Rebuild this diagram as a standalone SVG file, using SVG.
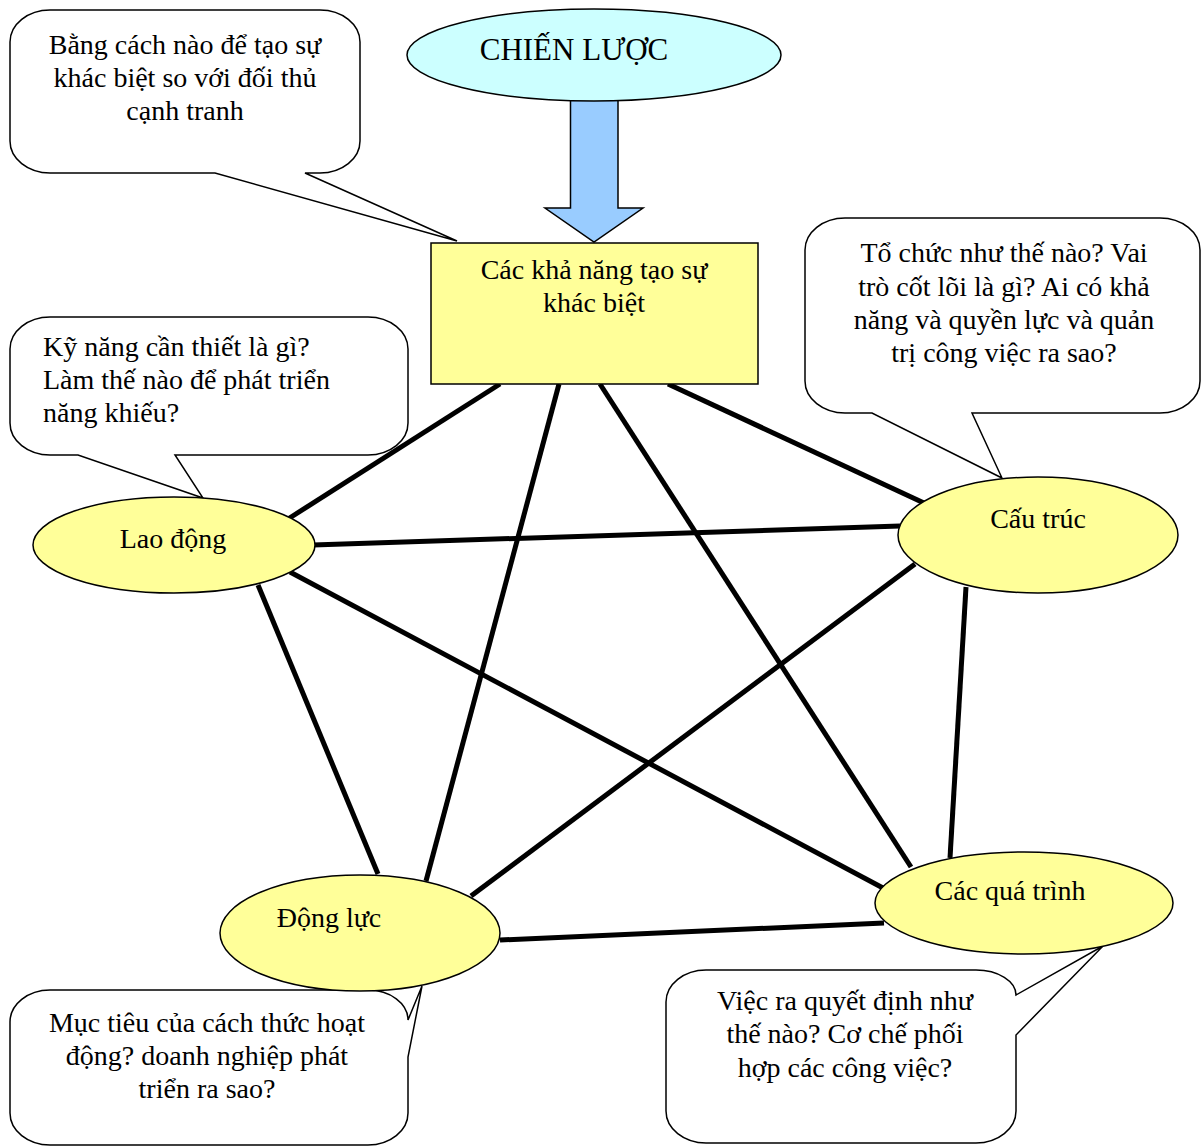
<svg xmlns="http://www.w3.org/2000/svg" width="1201" height="1147" viewBox="0 0 1201 1147">
<style>
.t{font-family:"Liberation Serif","Times New Roman",serif;font-size:28px;fill:#000}
.c{text-anchor:middle}
.callout{fill:#fff;stroke:#000;stroke-width:1.5;stroke-linejoin:miter}
.node{fill:#ffff99;stroke:#000;stroke-width:1.5}
.edge{stroke:#000;stroke-width:5;fill:none}
</style>
<rect width="1201" height="1147" fill="#fff"/>
<g id="connectors">
<line class="edge" x1="500" y1="384" x2="288" y2="519"/>
<line class="edge" x1="559" y1="384" x2="426" y2="881"/>
<line class="edge" x1="600" y1="384" x2="911" y2="867"/>
<line class="edge" x1="668" y1="384" x2="924" y2="503"/>
<line class="edge" x1="313" y1="545" x2="900" y2="526"/>
<line class="edge" x1="290" y1="572" x2="883" y2="888"/>
<line class="edge" x1="258" y1="585" x2="378" y2="874"/>
<line class="edge" x1="915" y1="564" x2="471" y2="896"/>
<line class="edge" x1="966" y1="587" x2="950" y2="858"/>
<line class="edge" x1="500" y1="940" x2="884" y2="923"/>
</g>
<g id="arrow">
<path d="M570.5,95 V208 H545 L594,242 L643,208 H618 V95 Z" fill="#99ccff" stroke="#000" stroke-width="1.5"/>
</g>
<g id="chien-luoc">
<ellipse cx="594" cy="55" rx="187" ry="46" fill="#ccffff" stroke="#000" stroke-width="1.5"/>
<text class="t c" x="574" y="60" style="font-size:31px">CHIẾN LƯỢC</text>
</g>
<g id="kha-nang">
<rect class="node" x="431" y="243" width="327" height="141"/>
<text class="t c" x="594" y="279">Các khả năng tạo sự</text>
<text class="t c" x="594" y="312">khác biệt</text>
</g>
<g id="callout-khac-biet">
<path class="callout" d="M50,10 H320 A40 32 0 0 1 360,42 V141 A40 32 0 0 1 320,173 H305 L457,241 L215,173 H50 A40 32 0 0 1 10,141 V42 A40 32 0 0 1 50,10 Z"/>
<text class="t c" x="185" y="54">Bằng cách nào để tạo sự</text>
<text class="t c" x="185" y="87">khác biệt so với đối thủ</text>
<text class="t c" x="185" y="120">cạnh tranh</text>
</g>
<g id="callout-cau-truc">
<path class="callout" d="M845,218 H1160 A40 32 0 0 1 1200,250 V381 A40 32 0 0 1 1160,413 H972 L1002,478 L872,413 H845 A40 32 0 0 1 805,381 V250 A40 32 0 0 1 845,218 Z"/>
<text class="t c" x="1004" y="262">Tổ chức như thế nào? Vai</text>
<text class="t c" x="1004" y="296">trò cốt lõi là gì? Ai có khả</text>
<text class="t c" x="1004" y="329">năng và quyền lực và quản</text>
<text class="t c" x="1004" y="362">trị công việc ra sao?</text>
</g>
<g id="callout-lao-dong">
<path class="callout" d="M50,317 H368 A40 32 0 0 1 408,349 V423 A40 32 0 0 1 368,455 H175 L203,498 L78,455 H50 A40 32 0 0 1 10,423 V349 A40 32 0 0 1 50,317 Z"/>
<text class="t" x="43" y="356">Kỹ năng cần thiết là gì?</text>
<text class="t" x="43" y="389">Làm thế nào để phát triển</text>
<text class="t" x="43" y="422">năng khiếu?</text>
</g>
<g id="callout-dong-luc">
<path class="callout" d="M50,990 H368 A40 30 0 0 1 408,1020 L422,986 L408,1057 V1113 A40 32 0 0 1 368,1145 H50 A40 32 0 0 1 10,1113 V1022 A40 32 0 0 1 50,990 Z"/>
<text class="t c" x="207" y="1032">Mục tiêu của cách thức hoạt</text>
<text class="t c" x="207" y="1065">động? doanh nghiệp phát</text>
<text class="t c" x="207" y="1098">triển ra sao?</text>
</g>
<g id="callout-qua-trinh">
<path class="callout" d="M706,970 H976 A40 25 0 0 1 1016,995 L1103,946 L1016,1035 V1111 A40 32 0 0 1 976,1143 H706 A40 32 0 0 1 666,1111 V1002 A40 32 0 0 1 706,970 Z"/>
<text class="t c" x="845" y="1010">Việc ra quyết định như</text>
<text class="t c" x="845" y="1043">thế nào? Cơ chế phối</text>
<text class="t c" x="845" y="1077">hợp các công việc?</text>
</g>
<g id="lao-dong">
<ellipse class="node" cx="174" cy="545" rx="141" ry="48"/>
<text class="t c" x="173" y="548">Lao động</text>
</g>
<g id="cau-truc">
<ellipse class="node" cx="1038" cy="535" rx="140" ry="58"/>
<text class="t c" x="1038" y="528">Cấu trúc</text>
</g>
<g id="qua-trinh">
<ellipse class="node" cx="1024" cy="903" rx="149" ry="51"/>
<text class="t c" x="1010" y="900">Các quá trình</text>
</g>
<g id="dong-luc">
<ellipse class="node" cx="360" cy="933" rx="140" ry="58"/>
<text class="t c" x="329" y="927">Động lực</text>
</g>
</svg>
